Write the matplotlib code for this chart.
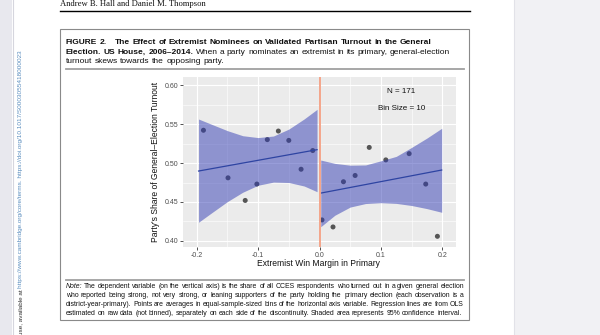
import matplotlib
matplotlib.use("Agg")
import matplotlib.pyplot as plt
from matplotlib.transforms import Affine2D
from matplotlib.patches import Rectangle
from matplotlib.lines import Line2D

# ---------------- data ----------------
left_x = [-0.189, -0.149, -0.121, -0.102, -0.085, -0.067, -0.050, -0.030, -0.011]
left_y = [0.542, 0.481, 0.452, 0.473, 0.530, 0.541, 0.529, 0.492, 0.516]
right_x = [0.004, 0.022, 0.039, 0.058, 0.081, 0.108, 0.146, 0.173, 0.192]
right_y = [0.427, 0.418, 0.476, 0.484, 0.520, 0.504, 0.512, 0.473, 0.406]

left_fit_x = [-0.197, -0.004]
left_fit_y = [0.4897, 0.5171]
right_fit_x = [0.002, 0.199]
right_fit_y = [0.4614, 0.4910]

left_band_x = [-0.197, -0.175, -0.150, -0.125, -0.100, -0.075, -0.050, -0.025, -0.004]
left_band_hi = [0.5564, 0.5494, 0.5415, 0.5350, 0.5326, 0.5346, 0.5435, 0.5565, 0.5688]
left_band_lo = [0.4240, 0.4365, 0.4505, 0.4625, 0.4715, 0.4755, 0.4750, 0.4705, 0.4632]
right_band_x = [0.002, 0.025, 0.050, 0.075, 0.100, 0.125, 0.150, 0.175, 0.199]
right_band_hi = [0.5038, 0.4995, 0.4972, 0.4975, 0.5028, 0.5085, 0.5200, 0.5320, 0.5445]
right_band_lo = [0.4183, 0.4330, 0.4435, 0.4480, 0.4491, 0.4482, 0.4455, 0.4415, 0.4368]

x_ticks = [-0.2, -0.1, 0.0, 0.1, 0.2]
x_tick_labels = ["-0.2", "-0.1", "0.0", "0.1", "0.2"]
y_ticks = [0.40, 0.45, 0.50, 0.55, 0.60]
y_tick_labels = ["0.40", "0.45", "0.50", "0.55", "0.60"]

x_label = "Extremist Win Margin in Primary"
y_label = "Party's Share of General\u2013Election Turnout"
annot_n = "N = 171"
annot_bin = "Bin Size = 10"

header = "Andrew B. Hall and Daniel M. Thompson"
cap_fig = "FIGURE 2."
cap_l1 = "The Effect of Extremist Nominees on Validated Partisan Turnout in the General"
cap_l2_bold = "Election. US House, 2006\u20132014."
cap_l2_reg = "When a party nominates an extremist in its primary, general-election"
cap_l3 = "turnout skews towards the opposing party."
note_italic = "Note:"
note_lines = [
    "The dependent variable (on the vertical axis) is the share of all CCES respondents who turned out in a given general election",
    "who reported being strong, not very strong, or leaning supporters of the party holding the primary election (each observation is a",
    "district-year-primary). Points are averages in equal-sample-sized bins of the horizontal axis variable. Regression lines are from OLS",
    "estimated on raw data (not binned), separately on each side of the discontinuity. Shaded area represents 95% confidence interval.",
]
side_black = "use, available at"
side_blue = "https://www.cambridge.org/core/terms. https://doi.org/10.1017/S0003055418000023"

# ---------------- figure ----------------
W, H = 600, 335
fig = plt.figure(figsize=(6, 3.35), dpi=100)
fig.patch.set_facecolor("white")
pix = Affine2D().scale(1 / W, -1 / H).translate(0, 1) + fig.transFigure
renderer = fig.canvas.get_renderer()
SANS = "Liberation Sans"
SERIF = "Liberation Serif"
INK = "#111111"


def text_w(s, **kw):
    t = fig.text(0, 0, s, **kw)
    bb = t.get_window_extent(renderer)
    t.remove()
    return bb.width


def fit_size(s, target, **kw):
    base = 10.0
    return base * target / text_w(s, fontsize=base, **kw)


def space_w(fs, **kw):
    return text_w("a a", fontsize=fs, **kw) - text_w("aa", fontsize=fs, **kw)


def place_words(words, x0, y, fs, x1=None, styles=None, weights=None):
    """Place words one by one; justify to x1 if given, else natural spacing."""
    n = len(words)
    styles = styles or ["normal"] * n
    weights = weights or ["normal"] * n
    widths = [text_w(w, fontsize=fs, family=SANS, style=s, weight=b)
              for w, s, b in zip(words, styles, weights)]
    if x1 is not None and n > 1:
        gap = (x1 - x0 - sum(widths)) / (n - 1)
    else:
        gap = space_w(fs, family=SANS)
    x = x0
    for w, s, b, wd in zip(words, styles, weights, widths):
        fig.text(x, y, w, transform=pix, ha="left", va="baseline", fontsize=fs,
                 family=SANS, style=s, weight=b, color=INK)
        x += wd + gap
    return x


# page background strips
fig.add_artist(Rectangle((0, 0), 12, H, transform=pix, facecolor="#E8E8EE", edgecolor="none"))
fig.add_artist(Line2D([12.5, 12.5], [0, H], transform=pix, color="#D6D6DE", lw=0.8))
fig.add_artist(Rectangle((514, 0), W - 514, H, transform=pix, facecolor="#F1F1F4", edgecolor="none"))
fig.add_artist(Line2D([513.6, 513.6], [0, H], transform=pix, color="#E2E2E8", lw=0.8))

# side text (rotated)
fs_side = fit_size(side_blue, 235, family=SANS)
fig.text(20.7, 50, side_blue, transform=pix, rotation=90, ha="center", va="top",
         fontsize=fs_side, family=SANS, color="#5A8DBE")
L_blue = text_w(side_blue, fontsize=fs_side, family=SANS)
fig.text(20.7, 50 + L_blue + 2.0, side_black, transform=pix, rotation=90, ha="center", va="top",
         fontsize=fs_side, family=SANS, color="#333333")

# header
fs_head = fit_size(header, 145, family=SERIF)
fig.text(60, 5.8, header, transform=pix, ha="left", va="baseline", fontsize=fs_head,
         family=SERIF, color=INK)
fig.add_artist(Line2D([60, 470], [10.8, 10.8], transform=pix, color="black", lw=1.0))

# figure box
fig.add_artist(Rectangle((60, 28.7), 409.3, 291.3, transform=pix, facecolor="none",
                         edgecolor="#8A8A8A", lw=0.8))

# caption
fs_cap = fit_size(cap_l1, 313, family=SANS, weight="bold")
place_words(cap_fig.split(" "), 66, 44.0, fs_cap, weights=["bold"] * 2)
w1 = cap_l1.split(" ")
place_words(w1, 115, 44.0, fs_cap, weights=["bold"] * len(w1))
wb_words = cap_l2_bold.split(" ")
wr_words = cap_l2_reg.split(" ")
place_words(wb_words + wr_words, 66, 53.6, fs_cap,
            weights=["bold"] * len(wb_words) + ["normal"] * len(wr_words))
place_words(cap_l3.split(" "), 66, 63.0, fs_cap)

fig.add_artist(Line2D([66, 464], [69.3, 69.3], transform=pix, color="#A0A0A0", lw=1.3))
fig.add_artist(Line2D([66, 464], [280.0, 280.0], transform=pix, color="#A0A0A0", lw=1.3))

# note: font size fitted so lines fill the block width, words justified
note_base = [288.0, 296.9, 305.8, 314.7]
full_lines = [note_italic + " " + note_lines[0]] + note_lines[1:]
sizes = [fit_size(l, 398, family=SANS) for l in full_lines[:3]]
fs_note = sum(sizes) / len(sizes)
for i, line in enumerate(full_lines):
    words = line.split(" ")
    styles = ["normal"] * len(words)
    if i == 0:
        styles[0] = "italic"
    place_words(words, 66, note_base[i], fs_note, x1=(464 if i < 3 else None), styles=styles)

# ---------------- plot ----------------
px_l, px_r, px_t, px_b = 183, 456, 77, 247.3
ax = fig.add_axes([px_l / W, 1 - px_b / H, (px_r - px_l) / W, (px_b - px_t) / H])
ax.set_facecolor("#EBEBEB")
for sp in ax.spines.values():
    sp.set_visible(False)
ax.set_xlim(-0.2223, 0.2223)
ax.set_ylim(0.3919, 0.6103)
ax.set_xticks(x_ticks)
ax.set_xticklabels(x_tick_labels)
ax.set_yticks(y_ticks)
ax.set_yticklabels(y_tick_labels)
ax.set_xticks([-0.15, -0.05, 0.05, 0.15], minor=True)
ax.set_yticks([0.425, 0.475, 0.525, 0.575], minor=True)
ax.grid(True, which="major", color="white", lw=0.8)
ax.grid(True, which="minor", color="white", lw=0.4)
ax.set_axisbelow(True)
ax.tick_params(which="major", length=2.2, width=0.6, color="#333333", labelsize=5.0,
               labelcolor="#4D4D4D", pad=1.2)
ax.tick_params(which="minor", length=0)
for lab in ax.get_xticklabels() + ax.get_yticklabels():
    lab.set_family(SANS)

ax.scatter(left_x, left_y, s=13, color="#555555", edgecolors="none", zorder=2)
ax.scatter(right_x, right_y, s=13, color="#555555", edgecolors="none", zorder=2)
band_col = (50 / 255, 60 / 255, 180 / 255)
ax.fill_between(left_band_x, left_band_lo, left_band_hi, color=band_col, alpha=0.5, lw=0, zorder=3)
ax.fill_between(right_band_x, right_band_lo, right_band_hi, color=band_col, alpha=0.5, lw=0, zorder=3)
ax.plot(left_fit_x, left_fit_y, color="#2E44A2", lw=0.9, zorder=4)
ax.plot(right_fit_x, right_fit_y, color="#2E44A2", lw=0.9, zorder=4)
ax.axvline(0.0, color="#F4A58A", lw=1.4, zorder=5)

ax.text(0.133, 0.5914, annot_n, ha="center", va="center", fontsize=5.8, family=SANS, color=INK)
ax.text(0.133, 0.5705, annot_bin, ha="center", va="center", fontsize=5.8, family=SANS, color=INK)

fs_xl = fit_size(x_label, 123, family=SANS)
fig.text(318, 264, x_label, transform=pix, ha="center", va="center", fontsize=fs_xl,
         family=SANS, color=INK)
fig.text(156, 162, y_label, transform=pix, ha="center", va="center", rotation=90,
         fontsize=fs_xl, family=SANS, color=INK)

fig.savefig("out.png", dpi=100, facecolor="white")
